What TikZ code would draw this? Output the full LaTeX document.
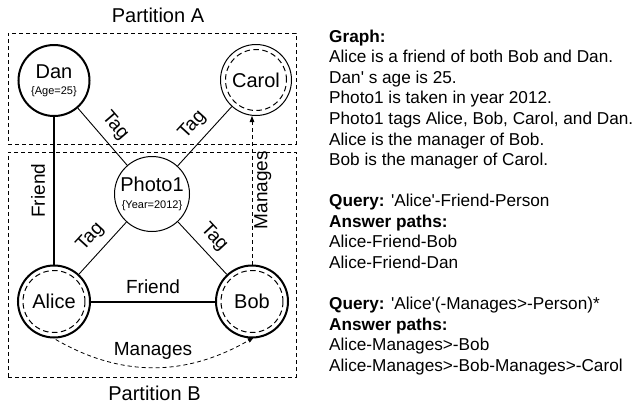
\documentclass[tikz,border=0pt]{standalone}
\usepackage{fontspec}
\setmainfont{Liberation Sans}[Ligatures=TeXOff]
\usetikzlibrary{arrows.meta}
\newcommand\nodesub[1]{{\fontsize{11}{13}\selectfont #1}}
\begin{document}
\begin{tikzpicture}[x=1pt,y=1pt,
  partbox/.style={draw, dash pattern=on 4pt off 3pt, line width=0.8pt, inner sep=0pt},
  partlabel/.style={font=\fontsize{20}{24}\selectfont, inner sep=0pt, anchor=base},
  vtx/.style={circle, draw, inner sep=0pt, align=center, font=\fontsize{20}{20}\selectfont},
  thickv/.style={vtx, line width=2pt},
  thinv/.style={vtx, line width=1pt},
  innerring/.style={dash pattern=on 5.5pt off 3.5pt, line width=1pt},
  thickedge/.style={line width=2pt},
  thinedge/.style={line width=0.9pt},
  mgedge/.style={line width=0.8pt, dash pattern=on 4pt off 3pt, -{Triangle[length=6pt,width=4.5pt]}},
  elabel/.style={font=\fontsize{19}{19}\selectfont, inner sep=2pt},
  txt/.style={font=\fontsize{17.2}{20.55}\selectfont, inner sep=0pt, anchor=base west}
]
\useasboundingbox (0,0) rectangle (636,-408);

% partitions
\node[partbox, minimum width=288pt, minimum height=111pt] (partA) at (152,-88.5) {};
\node[partbox, minimum width=288pt, minimum height=225pt] (partB) at (152,-264.5) {};
\node[partlabel] (labA) at (158,-22.7) {Partition A};
\node[partlabel] (labB) at (154.5,-400) {Partition B};

% vertices
\node[thickv, minimum size=71pt] (dan) at (54,-80.5) {Dan\\[-4pt]\nodesub{\{Age=25\}}};
\node[thinv, minimum size=71pt] (carol) at (256,-80) {Carol};
\node[thinv, minimum size=75pt] (photo) at (152,-194) {Photo1\\[-3.3pt]\nodesub{\{Year=2012\}}};
\node[thickv, minimum size=72pt] (alice) at (54,-301.5) {Alice};
\node[thickv, minimum size=72pt] (bob) at (252,-301.5) {Bob};
\draw[innerring] (carol.center) circle[radius=30.5pt];
\draw[innerring] (alice.center) circle[radius=31pt];
\draw[innerring] (bob.center) circle[radius=31pt];

% edges
\draw[thickedge] (alice) -- node[elabel, sloped, above=6pt] (lf1) {Friend} (dan);
\draw[thickedge] (alice) -- node[elabel, above=4.5pt] (lf2) {Friend} (bob);
\draw[thinedge] (dan) -- node[elabel, sloped, above=5.5pt] (lt1) {Tag} (photo);
\draw[thinedge] (photo) -- node[elabel, sloped, above=5.5pt] (lt2) {Tag} (carol);
\draw[thinedge] (alice) -- node[elabel, sloped, above=5.5pt] (lt3) {Tag} (photo);
\draw[thinedge] (photo) -- node[elabel, sloped, above=5pt] (lt4) {Tag} (bob);
\draw[mgedge, shorten <=2pt, shorten >=-2pt] (alice.south) to[out=-30, in=-150] node[elabel, above=6pt] (lm1) {Manages} (bob.south);
\draw[mgedge] (bob.north) -- node[elabel, sloped, below=0pt] (lm2) {Manages} (bob.north |- carol.south);

% text
\node[txt] (t0) at (329,-42.3) {\textbf{Graph:}};
\node[txt] (t1) at (329,-62.85) {Alice is a friend of both Bob and Dan.};
\node[txt] (t2) at (329,-83.4) {Dan' s age is 25.};
\node[txt] (t3) at (329,-103.95) {Photo1 is taken in year 2012.};
\node[txt] (t4) at (329,-124.5) {Photo1 tags Alice, Bob, Carol, and Dan.};
\node[txt] (t5) at (329,-145.05) {Alice is the manager of Bob.};
\node[txt] (t6) at (329,-165.6) {Bob is the manager of Carol.};
\node[txt] (t8) at (329,-206.7) {\textbf{Query:} 'Alice'-Friend-Person};
\node[txt] (t9) at (329,-227.25) {\textbf{Answer paths:}};
\node[txt] (t10) at (329,-247.8) {Alice-Friend-Bob};
\node[txt] (t11) at (329,-268.35) {Alice-Friend-Dan};
\node[txt] (t13) at (329,-309.45) {\textbf{Query:} 'Alice'(-Manages>-Person)*};
\node[txt] (t14) at (329,-330.0) {\textbf{Answer paths:}};
\node[txt] (t15) at (329,-350.55) {Alice-Manages>-Bob};
\node[txt] (t16) at (329,-371.1) {Alice-Manages>-Bob-Manages>-Carol};
\end{tikzpicture}
\end{document}
